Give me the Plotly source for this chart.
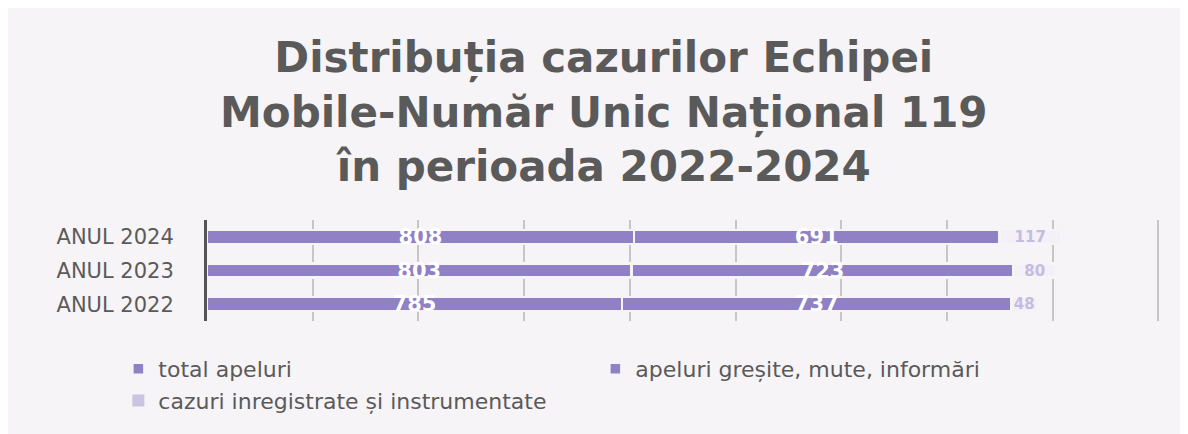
import plotly.graph_objects as go

categories = ["ANUL 2022", "ANUL 2023", "ANUL 2024"]
total_apeluri = [785, 803, 808]
apeluri_gresite = [737, 723, 691]
cazuri_inregistrate = [48, 80, 117]
series_names = ["total apeluri", "apeluri greșite, mute, informări",
                "cazuri inregistrate și instrumentate"]
x_ticks = [0, 200, 400, 600, 800, 1000, 1200, 1400, 1600, 1800]
title_text = "Distribuția cazurilor Echipei<br>Mobile-Număr Unic Național 119<br>în perioada 2022-2024"

bg = "#f6f4f6"
bar_color = "#9080c5"
pale_bar = "#f3f0f7"
legend_pale = "#cbc3e2"
text_gray = "#5a5a5a"
FONT = "DejaVu Sans"

fig = go.Figure()
series = [
    (series_names[0], total_apeluri, bar_color, "white", 21),
    (series_names[1], apeluri_gresite, bar_color, "white", 21),
    (series_names[2], cazuri_inregistrate, pale_bar, "#c6bcdf", 15),
]
for i, (name, vals, col, tcol, tsize) in enumerate(series):
    fig.add_trace(go.Bar(
        y=categories, x=vals, name=name, orientation="h",
        marker=dict(color=col, line=dict(color=bg, width=2.5)),
        text=[str(v) for v in vals], textposition="inside", textangle=0,
        insidetextanchor="middle", constraintext="none",
        textfont=dict(family=FONT, size=tsize, color=tcol, weight="bold"),
        showlegend=(i < 2), hoverinfo="x+name",
    ))
# legend entry for the third series (its bars are drawn almost white)
fig.add_trace(go.Bar(
    y=[None], x=[None], name=series_names[2], orientation="h",
    marker=dict(color=legend_pale, line=dict(color=bg, width=0)),
    showlegend=True, hoverinfo="skip",
))

fig.add_annotation(
    text=title_text, xref="paper", yref="paper", x=0.4166, y=2.07,
    xanchor="center", yanchor="middle", showarrow=False, align="center",
    font=dict(family=FONT, size=42, color=text_gray, weight="bold"),
)

fig.update_layout(
    width=1180, height=426,
    barmode="stack", bargap=0.58,
    paper_bgcolor=bg, plot_bgcolor=bg,
    margin=dict(l=199, r=28, t=212, b=113, autoexpand=False),
    xaxis=dict(range=[0, 1803], tickvals=x_ticks, showticklabels=False,
               showgrid=True, gridcolor="#c6c6c6", gridwidth=2,
               zeroline=False, showline=False, fixedrange=True),
    yaxis=dict(showline=True, linecolor="#555555", linewidth=3,
               ticks="outside", ticklen=26, tickcolor=bg, automargin=False,
               tickfont=dict(family=FONT, size=21, color=text_gray),
               showgrid=False, fixedrange=True),
    legend=dict(orientation="h", x=-0.093, xanchor="left", y=-0.268, yanchor="top",
                entrywidth=432, entrywidthmode="pixels",
                font=dict(family=FONT, size=22, color=text_gray),
                bgcolor="rgba(0,0,0,0)", traceorder="normal"),
    showlegend=True,
)

fig.write_html("out.html")
